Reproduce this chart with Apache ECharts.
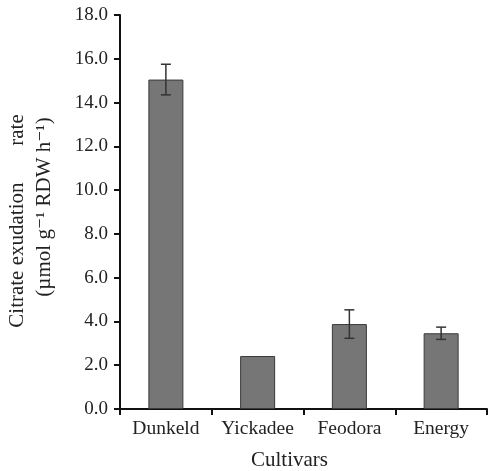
<!DOCTYPE html>
<html><head><meta charset="utf-8">
<script src="https://cdn.jsdelivr.net/npm/echarts@6/dist/echarts.min.js"></script>
<style>html,body{margin:0;padding:0;background:#fff}#c{width:488px;height:471px}</style>
</head><body><div id="c"></div>
<script>
const categories = ['Dunkeld', 'Yickadee', 'Feodora', 'Energy'];
const values = [15.05, 2.42, 3.88, 3.46];
const errors = [0.70, 0, 0.65, 0.28];
const yTicks = [0, 2, 4, 6, 8, 10, 12, 14, 16, 18];

const font = '"Liberation Serif", "DejaVu Serif", serif';
const chart = echarts.init(document.getElementById('c'));
chart.setOption({
  animation: false,
  grid: { left: 120, right: 1, top: 15, bottom: 62, containLabel: false, outerBoundsMode: 'none' },
  xAxis: {
    type: 'category', data: categories,
    axisLine: { lineStyle: { color: '#111', width: 2 } },
    axisTick: { show: true, interval: 0, alignWithLabel: false, length: 6, lineStyle: { color: '#111', width: 2 } },
    axisLabel: { interval: 0, hideOverlap: false, fontFamily: font, fontSize: 19.5, color: '#222', margin: 10 },
    name: 'Cultivars', nameLocation: 'middle', nameGap: 41,
    nameTextStyle: { fontFamily: font, fontSize: 21, color: '#222', padding: [0, 28, 0, 0] }
  },
  yAxis: {
    type: 'value', min: yTicks[0], max: yTicks[yTicks.length - 1], interval: 2,
    splitLine: { show: false },
    axisLine: { show: true, lineStyle: { color: '#111', width: 2 } },
    axisTick: { show: true, length: 6, lineStyle: { color: '#111', width: 2 } },
    axisLabel: { fontFamily: font, fontSize: 19, color: '#222', margin: 12,
      formatter: v => v.toFixed(1) },
    name: '{a|Citrate exudation       rate}\n{b|(µmol g⁻¹ RDW h⁻¹)}',
    nameLocation: 'middle', nameGap: 62,
    nameTextStyle: { fontFamily: font, fontSize: 21, color: '#222', lineHeight: 27,
      rich: {
        a: { fontFamily: font, fontSize: 21, color: '#222', lineHeight: 27, padding: [0, 18, 0, 0] },
        b: { fontFamily: font, fontSize: 21, color: '#222', lineHeight: 27, padding: [0, 0, 0, 10] }
      }
    }
  },
  series: [
    {
      type: 'bar', data: values, barWidth: 35,
      itemStyle: { color: '#767676', borderColor: '#3a3a3a', borderWidth: 1 }
    },
    {
      type: 'custom',
      data: values.map((v, i) => [i, v, errors[i]]),
      renderItem: (params, api) => {
        const i = api.value(0), v = api.value(1), e = api.value(2);
        if (!e) return null;
        const top = api.coord([i, v + e]);
        const bot = api.coord([i, v - e]);
        const w = 5;
        const st = { stroke: '#333', lineWidth: 1.5 };
        return { type: 'group', children: [
          { type: 'line', shape: { x1: top[0], y1: top[1], x2: bot[0], y2: bot[1] }, style: st },
          { type: 'line', shape: { x1: top[0] - w, y1: top[1], x2: top[0] + w, y2: top[1] }, style: st },
          { type: 'line', shape: { x1: bot[0] - w, y1: bot[1], x2: bot[0] + w, y2: bot[1] }, style: st }
        ]};
      },
      z: 5
    }
  ]
});
</script></body></html>
